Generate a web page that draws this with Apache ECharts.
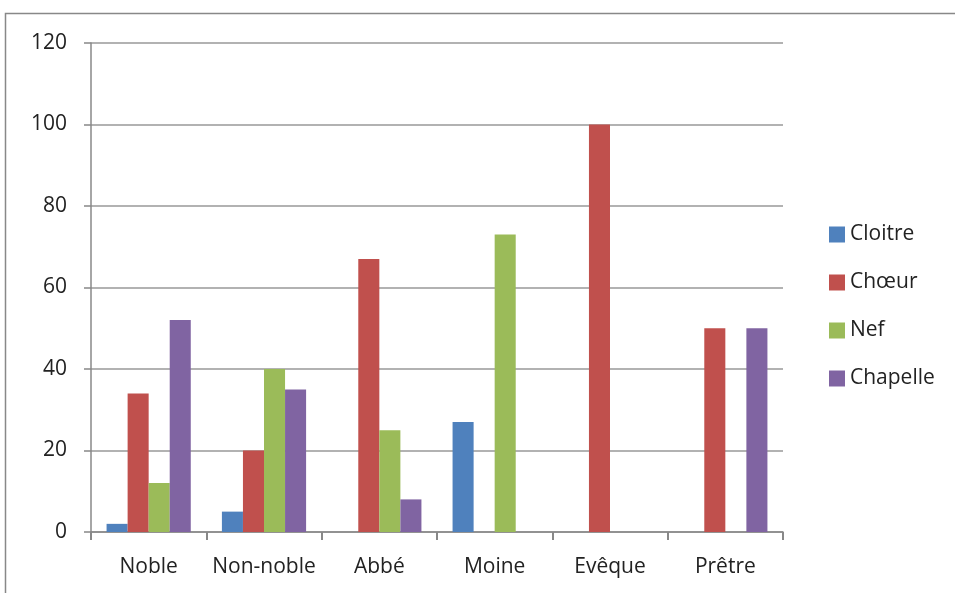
<!DOCTYPE html>
<html><head><meta charset="utf-8">
<script src="https://cdn.jsdelivr.net/npm/echarts@6/dist/echarts.min.js"></script>
<style>html,body{margin:0;padding:0;background:#fff}#c{width:955px;height:593px}</style>
</head><body><div id="c"></div>
<script>
const categories = ['Noble','Non-noble','Abbé','Moine','Evêque','Prêtre'];
const cloitre  = [2, 5, 0, 27, 0, 0];
const choeur   = [34, 20, 67, 0, 100, 50];
const nef      = [12, 40, 25, 73, 0, 0];
const chapelle = [52, 35, 8, 0, 0, 50];
const seriesNames = ['Cloitre','Chœur','Nef','Chapelle'];
const colors = ['#4F81BD','#C0504D','#9BBB59','#8064A2'];
const yTicks = {min:0, max:120, interval:20};

const chart = echarts.init(document.getElementById('c'));
const font = 'Open Sans, Liberation Sans, sans-serif';
const mk = (name, data, i) => ({
  name, type:'bar', data, barGap:'0%', barCategoryGap:'27%',
  itemStyle:{color:colors[i], borderWidth:0}
});
chart.setOption({
  animation:false,
  graphic:[{type:'rect', shape:{x:5.5,y:13.5,width:960,height:600}, style:{fill:'none', stroke:'#888', lineWidth:1.5}, silent:true}],
  grid:{left:91, right:172, top:43, bottom:61},
  legend:{orient:'vertical', left:824, top:219, itemGap:27, itemWidth:16, itemHeight:16,
    icon:'rect', textStyle:{fontFamily:font, fontSize:21, color:'#222'}, data:seriesNames},
  xAxis:{type:'category', data:categories,
    axisLine:{lineStyle:{color:'#888', width:1.5}},
    axisTick:{show:true, interval:0, length:8, lineStyle:{color:'#888', width:2}},
    axisLabel:{interval:0, fontFamily:font, fontSize:21, color:'#222', margin:25}},
  yAxis:{type:'value', min:yTicks.min, max:yTicks.max, interval:yTicks.interval,
    axisLine:{show:true, lineStyle:{color:'#888', width:1.5}},
    axisTick:{show:true, length:7, lineStyle:{color:'#888', width:1.5}},
    splitLine:{lineStyle:{color:'#999', width:1.5}},
    axisLabel:{fontFamily:font, fontSize:21, color:'#222', margin:24}},
  series:[mk(seriesNames[0], cloitre,0), mk(seriesNames[1], choeur,1), mk(seriesNames[2], nef,2), mk(seriesNames[3], chapelle,3)]
});
</script></body></html>
